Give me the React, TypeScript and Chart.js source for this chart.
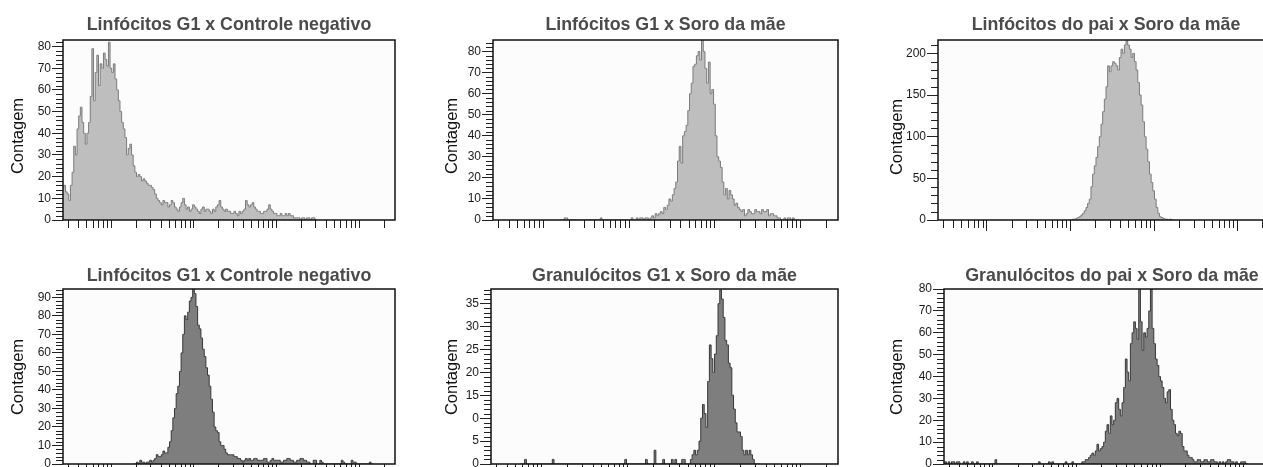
import React, { useEffect, useRef } from 'react';
import { Chart, registerables } from 'chart.js';

Chart.register(...registerables);
Chart.defaults.font.family = '"Liberation Sans", Arial, Helvetica, sans-serif';

// ---------- axis (log fluorescence, 50 channels per decade) ----------
const CHANNEL_MIN = 21;
const CHANNEL_MAX = 222;
const CHANNELS_PER_DECADE = 50;
const DECADES = [0, 1, 2, 3, 4];
const DECADE_MULTIPLIERS = [1, 2, 3, 4, 5, 6, 7, 8, 9];
const Y_TITLE = 'Contagem';

// ---------- panel titles ----------
const TITLES = [
  'Linfócitos G1 x Controle negativo',
  'Linfócitos G1 x Soro da mãe',
  'Linfócitos do pai x Soro da mãe',
  'Linfócitos G1 x Controle negativo',
  'Granulócitos G1 x Soro da mãe',
  'Granulócitos do pai x Soro da mãe',
];

// ---------- histogram counts (start channel + counts per channel) ----------
const p1Start = 21;
const p1Counts = [
  15, 16, 13, 12, 9, 16, 22, 34, 30, 42,
  48, 52, 45, 40, 35, 40, 45, 57, 79, 55,
  68, 76, 62, 72, 70, 77, 74, 71, 82, 70,
  68, 72, 65, 60, 55, 50, 45, 42, 38, 30,
  33, 35, 30, 25, 22, 20, 21, 20, 18, 19,
  18, 17, 16, 16, 15, 14, 12, 10, 9, 8,
  7, 9, 8, 8, 6, 7, 9, 8, 6, 5,
  4, 6, 8, 10, 7, 5, 6, 4, 5, 7,
  6, 5, 4, 3, 5, 6, 4, 5, 5, 4,
  3, 5, 4, 6, 7, 9, 6, 5, 4, 5,
  4, 4, 3, 3, 4, 3, 2, 4, 3, 4,
  5, 9, 7, 6, 7, 8, 6, 5, 4, 4,
  3, 3, 4, 4, 5, 7, 5, 4, 3, 3,
  2, 2, 3, 2, 2, 3, 2, 3, 2, 2,
  1, 1, 1, 1, 0, 1, 1, 0, 1, 1,
  0, 1, 1, 0, 0,
];

const p2Start = 60;
const p2Counts = [
  0, 0, 0, 1, 1, 0, 0, 0, 0, 0,
  0, 0, 0, 0, 0, 0, 0, 0, 0, 0,
  0, 0, 0, 0, 1, 0, 0, 0, 0, 0,
  0, 0, 0, 0, 0, 0, 0, 0, 0, 0,
  0, 0, 1, 0, 0, 1, 0, 1, 1, 0,
  1, 1, 0, 1, 2, 1, 3, 2, 3, 4,
  3, 6, 5, 7, 10, 9, 12, 15, 18, 28,
  35, 27, 40, 42, 45, 52, 60, 65, 73, 74,
  78, 80, 76, 86, 80, 72, 65, 75, 60, 62,
  55, 40, 30, 28, 25, 18, 12, 15, 10, 14,
  12, 10, 7, 8, 6, 5, 4, 5, 2, 3,
  5, 4, 3, 3, 5, 4, 4, 3, 5, 4,
  4, 5, 2, 3, 3, 2, 2, 1, 1, 0,
  0, 1, 0, 1, 1, 0, 1, 0, 0, 0,
];

const p3Start = 100;
const p3Counts = [
  0, 0, 1, 1, 2, 3, 4, 6, 8, 11,
  15, 20, 25, 40, 55, 65, 75, 88, 100, 115,
  130, 145, 160, 185, 178, 185, 190, 188, 185, 180,
  195, 205, 200, 210, 215, 210, 205, 195, 200, 190,
  180, 165, 150, 138, 118, 100, 85, 70, 55, 45,
  35, 25, 15, 8, 4, 3, 2, 1, 1, 0,
  1, 0, 0,
];

const p4Start = 64;
const p4Counts = [
  0, 0, 1, 0, 2, 1, 1, 0, 1, 1,
  2, 1, 2, 3, 5, 4, 4, 5, 7, 6,
  6, 9, 12, 18, 25, 30, 38, 42, 50, 60,
  70, 80, 78, 82, 88, 90, 95, 92, 85, 75,
  73, 68, 62, 58, 52, 48, 42, 35, 28, 20,
  18, 17, 12, 10, 10, 8, 6, 5, 5, 5,
  5, 4, 4, 3, 3, 2, 1, 2, 3, 2,
  3, 2, 2, 3, 3, 2, 2, 2, 2, 3,
  3, 1, 1, 2, 3, 2, 2, 2, 2, 1,
  1, 2, 2, 3, 3, 2, 2, 1, 1, 2,
  2, 3, 3, 2, 2, 1, 1, 0, 0, 2,
  2, 0, 0, 2, 1, 0, 0, 0, 0, 0,
  0, 0, 0, 0, 0, 0, 2, 1, 0, 0,
  0, 0, 2, 1, 1, 0, 0, 0, 0, 0,
  0, 0, 0, 1, 0, 0,
];

const p5Start = 38;
const p5Counts = [
  0, 0, 0, 1, 0, 0, 0, 0, 0, 0,
  0, 0, 0, 0, 0, 0, 0, 0, 0, 1,
  0, 0, 0, 0, 0, 0, 0, 0, 0, 0,
  0, 0, 0, 0, 0, 0, 0, 0, 0, 0,
  0, 0, 0, 0, 0, 0, 0, 0, 0, 0,
  0, 0, 0, 0, 0, 0, 0, 0, 0, 0,
  0, 1, 0, 0, 0, 0, 0, 0, 0, 0,
  0, 0, 0, 1, 0, 0, 0, 0, 3, 0,
  0, 0, 0, 1, 0, 0, 0, 0, 1, 0,
  1, 0, 0, 0, 1, 1, 0, 0, 0, 1,
  2, 3, 2, 3, 5, 10, 13, 11, 8, 18,
  26, 23, 20, 24, 28, 35, 38, 36, 32, 27,
  26, 22, 21, 15, 12, 9, 7, 7, 6, 3,
  2, 3, 2, 3, 2, 1, 0, 0, 0, 0,
];

const p6Start = 20;
const p6Counts = [
  0, 0, 1, 0, 1, 0, 1, 1, 0, 1,
  1, 0, 0, 1, 0, 1, 0, 0, 1, 0,
  0, 1, 0, 0, 0, 0, 0, 0, 0, 0,
  0, 0, 2, 0, 0, 0, 0, 0, 0, 0,
  0, 0, 0, 0, 0, 0, 0, 0, 0, 0,
  0, 0, 0, 0, 0, 0, 0, 0, 1, 0,
  0, 0, 0, 0, 1, 0, 1, 0, 0, 0,
  0, 0, 0, 0, 1, 0, 0, 0, 1, 0,
  0, 0, 0, 0, 1, 1, 2, 2, 3, 4,
  5, 4, 6, 9, 6, 7, 8, 10, 15, 18,
  14, 22, 18, 20, 28, 30, 25, 22, 28, 35,
  48, 42, 38, 55, 60, 65, 62, 57, 81, 65,
  52, 60, 58, 62, 70, 81, 62, 55, 48, 45,
  40, 38, 35, 30, 28, 33, 34, 25, 20, 18,
  14, 13, 15, 14, 8, 6, 6, 4, 3, 3,
  2, 1, 1, 2, 2, 1, 1, 2, 2, 1,
  1, 2, 2, 1, 1, 0, 1, 0, 1, 0,
  1, 2, 2, 1, 1, 0, 1, 0, 0, 1,
  1, 1, 0, 0,
];

// ---------- y axes ----------
const p1YTicks = [0, 10, 20, 30, 40, 50, 60, 70, 80];
const p2YTicks = [0, 10, 20, 30, 40, 50, 60, 70, 80];
const p3YTicks = [0, 50, 100, 150, 200];
const p4YTicks = [0, 10, 20, 30, 40, 50, 60, 70, 80, 90];
const p5YTicks = [0, 5, 10, 15, 20, 25, 30, 35];
const p5YTickLabels = ['0', '5', '0', '15', '20', '25', '30', '35'];
const p6YTicks = [0, 10, 20, 30, 40, 50, 60, 70, 80];

type PanelSpec = {
  title: string;
  start: number;
  counts: number[];
  yMax: number;
  yTicks: number[];
  yLabels?: string[];
  yMinor: number;
  // layout (page px)
  left: number; top: number; right: number; bottom: number;
  titleDy: number;
  yTitleX: number; yTitleY: number;
  fill: string; line: string;
  longMajor: boolean;
};

const TOP_FILL = '#bebebe';
const TOP_LINE = '#7b7b7b';
const BOT_FILL = '#7e7e7e';
const BOT_LINE = '#383838';

const PANELS: PanelSpec[] = [
  { title: TITLES[0], start: p1Start, counts: p1Counts, yMax: 83, yTicks: p1YTicks, yMinor: 2,
    left: 63, top: 40, right: 395, bottom: 220, titleDy: -10, yTitleX: 18, yTitleY: 136,
    fill: TOP_FILL, line: TOP_LINE, longMajor: false },
  { title: TITLES[1], start: p2Start, counts: p2Counts, yMax: 85.5, yTicks: p2YTicks, yMinor: 2,
    left: 493, top: 40, right: 838, bottom: 220, titleDy: -10, yTitleX: 452, yTitleY: 136,
    fill: TOP_FILL, line: TOP_LINE, longMajor: false },
  { title: TITLES[2], start: p3Start, counts: p3Counts, yMax: 216, yTicks: p3YTicks, yMinor: 10,
    left: 938, top: 40, right: 1274, bottom: 220, titleDy: -10, yTitleX: 897, yTitleY: 137,
    fill: TOP_FILL, line: TOP_LINE, longMajor: true },
  { title: TITLES[3], start: p4Start, counts: p4Counts, yMax: 94.5, yTicks: p4YTicks, yMinor: 2,
    left: 63, top: 289, right: 395, bottom: 464, titleDy: -8, yTitleX: 18, yTitleY: 377,
    fill: BOT_FILL, line: BOT_LINE, longMajor: false },
  { title: TITLES[4], start: p5Start, counts: p5Counts, yMax: 38.2, yTicks: p5YTicks, yLabels: p5YTickLabels, yMinor: 1,
    left: 491, top: 289, right: 838, bottom: 464, titleDy: -8, yTitleX: 452, yTitleY: 377,
    fill: BOT_FILL, line: BOT_LINE, longMajor: false },
  { title: TITLES[5], start: p6Start, counts: p6Counts, yMax: 80, yTicks: p6YTicks, yMinor: 2,
    left: 944, top: 289, right: 1280, bottom: 464, titleDy: -8, yTitleX: 897, yTitleY: 377,
    fill: BOT_FILL, line: BOT_LINE, longMajor: true },
];

const PAD_LEFT = 80;
const PAD_TOP = 40;
const PAD_RIGHT = 10;
const PAD_BOTTOM = 20;
const Y_AXIS_W = 40;

const decorPlugin = {
  id: 'decor',
  beforeDraw(chart: any) {
    const { ctx, chartArea: a } = chart;
    ctx.save();
    ctx.fillStyle = '#fcfcfc';
    ctx.fillRect(a.left, a.top, a.right - a.left, a.bottom - a.top);
    ctx.restore();
  },
  afterDraw(chart: any, _args: any, opts: any) {
    const { ctx, chartArea: a, scales } = chart;
    const xs = scales.x;
    const ys = scales.y;
    const spec: PanelSpec = opts.spec;
    ctx.save();
    // minor y ticks
    ctx.strokeStyle = '#222';
    ctx.lineWidth = 1;
    ctx.beginPath();
    for (let v = 0; v <= spec.yMax + 1e-9; v += spec.yMinor) {
      if (spec.yTicks.includes(Math.round(v * 1000) / 1000)) continue;
      const py = Math.round(ys.getPixelForValue(v)) + 0.5;
      ctx.moveTo(a.left - 7, py);
      ctx.lineTo(a.left, py);
    }
    ctx.stroke();
    // x ticks (log decades)
    ctx.beginPath();
    DECADES.forEach((d) => {
      DECADE_MULTIPLIERS.forEach((k) => {
        const c = CHANNELS_PER_DECADE * (d + Math.log10(k));
        const isMajor = k === 1;
        if (c < CHANNEL_MIN || c > CHANNEL_MAX) return;
        const px = Math.round(xs.getPixelForValue(c)) + 0.5;
        const len = isMajor && spec.longMajor ? 11 : 8;
        ctx.moveTo(px, a.bottom);
        ctx.lineTo(px, a.bottom + len);
      });
    });
    ctx.stroke();
    // plot frame
    ctx.strokeStyle = '#111';
    ctx.lineWidth = 1.5;
    ctx.strokeRect(a.left, a.top, a.right - a.left, a.bottom - a.top);
    // title
    ctx.fillStyle = '#4b4b4b';
    ctx.font = 'bold 17.8px "Liberation Sans", Arial, sans-serif';
    ctx.textAlign = 'center';
    ctx.textBaseline = 'alphabetic';
    ctx.fillText(spec.title, (a.left + a.right) / 2, a.top + spec.titleDy);
    // y title
    const ox = spec.yTitleX - (spec.left - PAD_LEFT);
    const oy = spec.yTitleY - (spec.top - PAD_TOP);
    ctx.translate(ox, oy);
    ctx.rotate(-Math.PI / 2);
    ctx.fillStyle = '#111';
    ctx.font = '16.5px "Liberation Sans", Arial, sans-serif';
    ctx.textAlign = 'center';
    ctx.textBaseline = 'middle';
    ctx.fillText(Y_TITLE, 0, 0);
    ctx.restore();
  },
};

function Panel({ spec }: { spec: PanelSpec }) {
  const ref = useRef<HTMLCanvasElement>(null);
  const w = spec.right - spec.left + PAD_LEFT + PAD_RIGHT;
  const h = spec.bottom - spec.top + PAD_TOP + PAD_BOTTOM;
  useEffect(() => {
    if (!ref.current) return;
    const points = spec.counts.map((y, i) => ({ x: spec.start + i, y }));
    const labels = spec.yLabels ?? spec.yTicks.map((v) => String(v));
    const chart = new Chart(ref.current, {
      type: 'line',
      data: {
        datasets: [
          {
            data: points,
            stepped: 'middle',
            fill: 'origin',
            borderColor: spec.line,
            backgroundColor: spec.fill,
            borderWidth: 1,
            pointRadius: 0,
          } as any,
        ],
      },
      options: {
        responsive: false,
        animation: false,
        events: [],
        layout: { padding: { left: PAD_LEFT - Y_AXIS_W, top: PAD_TOP, right: PAD_RIGHT, bottom: PAD_BOTTOM } },
        plugins: {
          legend: { display: false },
          tooltip: { enabled: false },
          title: { display: false },
          decor: { spec },
        } as any,
        scales: {
          x: { type: 'linear', display: false, min: CHANNEL_MIN, max: CHANNEL_MAX },
          y: {
            type: 'linear',
            min: 0,
            max: spec.yMax,
            afterBuildTicks: (s: any) => {
              s.ticks = spec.yTicks.map((v) => ({ value: v }));
            },
            afterFit: (s: any) => {
              s.width = Y_AXIS_W;
            },
            grid: { display: true, drawOnChartArea: false, drawTicks: true, tickLength: 11, color: '#222', lineWidth: 1 },
            border: { display: false },
            ticks: {
              autoSkip: false,
              padding: 1,
              color: '#1a1a1a',
              font: { size: 12 },
              callback: (_v: any, i: number) => labels[i],
            },
          },
        },
      } as any,
      plugins: [decorPlugin],
    });
    return () => chart.destroy();
  }, []);
  return (
    <canvas
      ref={ref}
      width={w}
      height={h}
      style={{ position: 'absolute', left: spec.left - PAD_LEFT, top: spec.top - PAD_TOP, width: w, height: h }}
    />
  );
}

export default function App() {
  return (
    <div
      style={{
        position: 'fixed',
        left: 0,
        top: 0,
        width: 1263,
        height: 467,
        overflow: 'hidden',
        background: '#ffffff',
      }}
    >
      {PANELS.map((p, i) => (
        <Panel key={i} spec={p} />
      ))}
    </div>
  );
}
